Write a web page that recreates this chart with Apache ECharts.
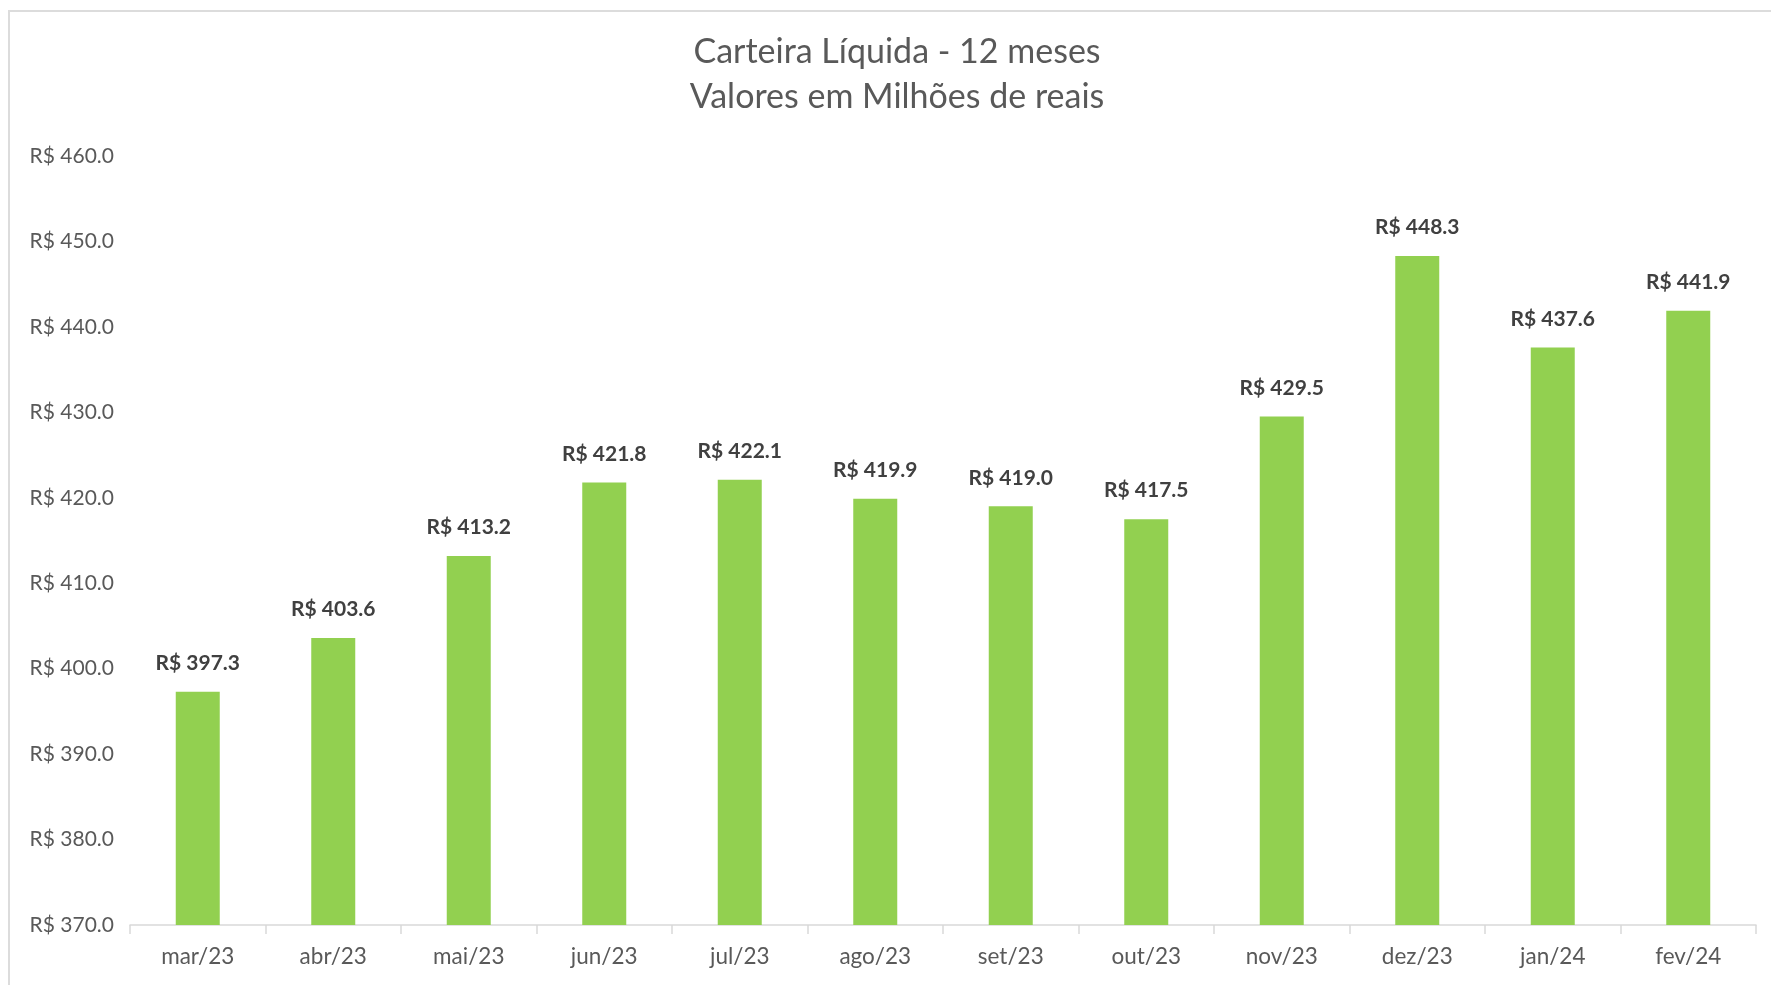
<!DOCTYPE html>
<html>
<head>
<meta charset="utf-8">
<script src="https://cdn.jsdelivr.net/npm/echarts@6/dist/echarts.min.js"></script>
<style>
  html, body { margin: 0; padding: 0; background: #fff; }
  #frame {
    position: absolute; left: 8px; top: 10px; width: 1800px; height: 1000px;
    border-left: 2px solid #dcdcdc; border-top: 2px solid #dcdcdc;
  }
  #chart { position: absolute; left: 0; top: 0; width: 1771px; height: 985px; }
</style>
</head>
<body>
<div id="frame"></div>
<div id="chart"></div>
<script>
// meses (rótulos do eixo X)
const meses = ["mar/23", "abr/23", "mai/23", "jun/23", "jul/23", "ago/23",
  "set/23", "out/23", "nov/23", "dez/23", "jan/24", "fev/24"];
// carteira líquida, milhões de reais
const carteira = [397.3, 403.6, 413.2, 421.8, 422.1, 419.9,
  419.0, 417.5, 429.5, 448.3, 437.6, 441.9];
const titulo = ["Carteira Líquida - 12 meses", "Valores em Milhões de reais"];

const fonte = "Lato, 'Open Sans', sans-serif";
const reais = (v) => "R$ " + v.toFixed(1);

const myChart = echarts.init(document.getElementById("chart"));
const option = {
  animation: false,
  title: {
    text: titulo.join("\n"),
    left: 897,
    top: 30,
    padding: 0,
    textAlign: "center",
    textStyle: {
      fontFamily: fonte,
      fontSize: 34,
      fontWeight: "normal",
      color: "#595959",
      lineHeight: 45,
    },
  },
  grid: {
    left: 130,
    right: 15,
    top: 156,
    bottom: 60,
  },
  xAxis: {
    type: "category",
    data: meses,
    axisLine: { lineStyle: { color: "#d9d9d9", width: 1.5 } },
    axisTick: { show: true, length: 9, lineStyle: { color: "#d9d9d9", width: 1.5 } },
    axisLabel: {
      fontFamily: fonte,
      fontSize: 22.5,
      color: "#595959",
      margin: 20,
    },
  },
  yAxis: {
    type: "value",
    min: 370,
    max: 460,
    interval: 10,
    axisLine: { show: false },
    axisTick: { show: false },
    splitLine: { show: false },
    axisLabel: {
      fontFamily: fonte,
      fontSize: 21,
      color: "#595959",
      margin: 16,
      formatter: reais,
    },
  },
  series: [
    {
      name: "Carteira Líquida",
      type: "bar",
      data: carteira,
      barWidth: 44,
      itemStyle: { color: "#92d050" },
      label: {
        show: true,
        position: "top",
        distance: 18,
        fontFamily: fonte,
        fontSize: 21,
        fontWeight: "bold",
        color: "#404040",
        formatter: (p) => reais(p.value),
      },
    },
  ],
};
myChart.setOption(option);
</script>
</body>
</html>
